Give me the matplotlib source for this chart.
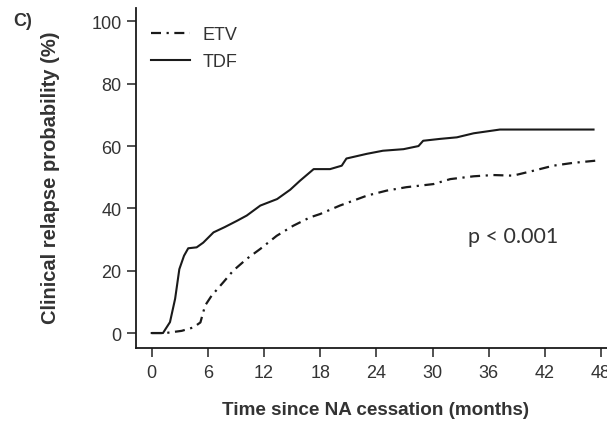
import matplotlib
matplotlib.use("Agg")
import matplotlib.pyplot as plt

# ---- data ----
tdf_months = [0, 1.2, 1.95, 2.5, 2.95, 3.45, 3.9, 4.8, 5.5, 6.6, 7.8, 9.1, 10.15, 11.6, 13.4,
              14.8, 15.85, 17.3, 19.05, 20.3, 20.8, 22.97, 24.7, 26.9, 28.5, 29.0, 30.8,
              32.6, 34.4, 36.5, 37.2, 47.2]
tdf_prob = [0, 0, 3.5, 11, 20.5, 24.8, 27.2, 27.5, 29, 32.3, 34, 36, 37.7, 40.9, 43,
            46, 48.9, 52.6, 52.6, 53.7, 56, 57.5, 58.5, 59, 60, 61.7, 62.3,
            62.8, 64.1, 65, 65.3, 65.3]

etv_months = [0, 1.5, 1.95, 3.2, 4.45, 5.2, 5.7, 6.4, 7.65, 8.7, 10.15, 11.6, 13.35, 15.1,
              16.9, 18.0, 20.1, 23.0, 25.1, 27.2, 30.1, 31.9, 34.4, 36.5, 38.6, 40.8,
              42.9, 45.0, 47.4]
etv_prob = [0, 0, 0.2, 0.7, 1.8, 3.4, 8.8, 12, 16.3, 20, 23.8, 27, 31.2, 34.4,
            37.1, 38.2, 40.9, 44.1, 45.7, 46.8, 47.8, 49.4, 50.3, 50.7, 50.5, 52.1,
            53.7, 54.6, 55.3]

x_ticks = [0, 6, 12, 18, 24, 30, 36, 42, 48]
y_ticks = [0, 20, 40, 60, 80, 100]

series_labels = ["ETV", "TDF"]
x_label = "Time since NA cessation (months)"
y_label = "Clinical relapse probability (%)"
panel_label = "C)"
p_text = "p < 0.001"

# ---- style ----
plt.rcParams['font.family'] = ['Liberation Sans', 'DejaVu Sans']
text_col = '#333333'
line_col = '#1a1a1a'

W, H = 607, 427
fig = plt.figure(figsize=(W / 100, H / 100), dpi=100)
ax = fig.add_axes([136 / W, (H - 349) / H, (607 - 136) / W, (349 - 9) / H])

ax.plot(etv_months, etv_prob, color=line_col, lw=1.6, dashes=[4.5, 2.5, 1, 2.5],
        label=series_labels[0])
ax.plot(tdf_months, tdf_prob, color=line_col, lw=1.5, label=series_labels[1])

ax.set_xlim(-1.68, 48.64)
ax.set_ylim(-4.8, 104.3)
ax.set_xticks(x_ticks)
ax.set_yticks(y_ticks)
ax.spines['top'].set_visible(False)
ax.spines['right'].set_visible(False)
for s in ('left', 'bottom'):
    ax.spines[s].set_color(line_col)
    ax.spines[s].set_linewidth(1.3)
ax.tick_params(axis='both', length=6.7, width=1.2, color='#333333',
               labelsize=13, labelcolor=text_col)
ax.tick_params(axis='y', pad=3.6)
ax.tick_params(axis='x', pad=5)

ax.xaxis.set_label_coords(376 / W, 1 - 411 / H, transform=fig.transFigure)
ax.set_xlabel(x_label, fontsize=13.6, fontweight='bold', color=text_col,
              va='center', ha='center')
ax.yaxis.set_label_coords(51 / W, 1 - 178 / H, transform=fig.transFigure)
ax.set_ylabel(y_label, fontsize=14.5, fontweight='bold', color=text_col,
              va='center', ha='center')

leg = fig.legend(handles=ax.get_lines(), labels=series_labels,
                 loc='upper left', bbox_to_anchor=(146 / W, 1 - 22 / H), frameon=False,
                 fontsize=13, handlelength=2.15, handletextpad=0.7, labelspacing=0.55,
                 borderaxespad=0.0, borderpad=0.3)
for t in leg.get_texts():
    t.set_color(text_col)

fig.text(468 / W, 1 - 237 / H, p_text, fontsize=15.5,
         color=text_col, family=['Lato', 'DejaVu Sans'], va='center', ha='left')
fig.text(13 / W, 1 - 21 / H, panel_label, fontsize=13, fontweight='bold',
         color=text_col, va='center', ha='left')

fig.savefig("out.png", dpi=100)
